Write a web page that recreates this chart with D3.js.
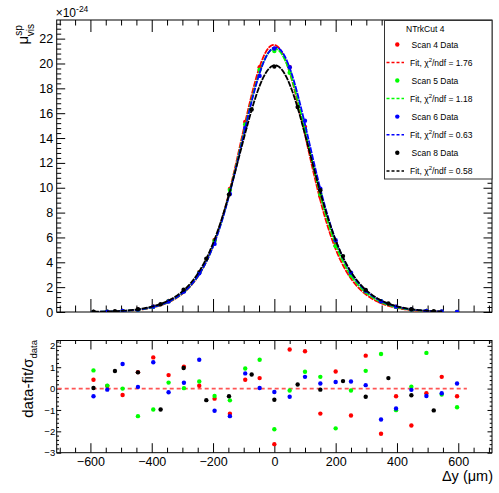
<!DOCTYPE html>
<html><head><meta charset="utf-8">
<script src="https://cdn.jsdelivr.net/npm/d3@7"></script>
<style>body{margin:0;background:#fff} svg{display:block} text{font-family:"Liberation Sans",Arial,Helvetica,sans-serif}</style>
</head><body><svg id="c" width="499" height="493"></svg>
<script>
// ---- data ----
const scanNames = ["Scan 4 Data", "Scan 5 Data", "Scan 6 Data", "Scan 8 Data"];
const chi2ndf = ["1.76", "1.18", "0.63", "0.58"];
const scanColors = ["#ff0000", "#00ff00", "#0000ff", "#000000"];
const headerText = "NTrkCut 4";

const xScan456 = [-590,-545,-495,-445,-395,-345,-295,-245,-195,-145,-95,-48,0,50,100,150,200,250,298,348,397,447,496,546,596];
const xScan8 = [-590,-520,-445,-371,-296,-222,-148,-74,0,76,150,224,298,372,447,520];

const yScan4 = [0.01,0.03,0.08,0.20,0.45,0.89,1.72,3.20,5.80,9.90,15.3,19.7,21.2,19.7,14.9,9.3,5.55,2.95,1.68,0.82,0.43,0.18,0.08,0.03,0.01];
const yScan5 = [0.01,0.03,0.08,0.18,0.42,0.87,1.68,3.16,5.73,9.82,15.1,19.5,21.0,19.25,14.7,9.45,5.3,2.96,1.64,0.87,0.41,0.19,0.09,0.03,0.01];
const yScan6 = [0.01,0.03,0.09,0.19,0.43,0.84,1.64,3.12,5.48,9.50,14.8,19.0,21.2,19.7,15.4,9.92,5.78,3.17,1.71,0.86,0.43,0.21,0.09,0.035,0.012];
const yScan8 = [0.02,0.07,0.23,0.62,1.80,4.28,9.45,16.3,19.75,16.5,9.8,4.5,1.78,0.69,0.22,0.06];

const resScan4 = [0.41,0.12,-0.30,0.77,1.46,0.63,1.02,0.13,-0.47,-1.18,0.41,0.49,-2.6,1.83,1.75,-1.17,0.80,-1.26,1.54,-2.11,-0.36,-1.73,-0.22,0.55,-0.36];
const resScan5 = [0.85,0.14,0.00,-1.29,-0.98,0.28,0.02,0.33,-0.35,-0.55,0.94,1.35,-1.9,-0.09,0.79,0.55,-1.86,-0.09,0.83,1.62,-1.01,0.09,1.67,-0.28,-0.87];
const resScan6 = [-0.36,-0.05,1.15,0.08,1.23,-0.17,0.27,1.35,-1.04,-1.29,0.71,0.03,-0.16,-0.38,0.55,0.24,0.31,0.33,0.16,-1.45,-0.93,-0.06,-0.35,-0.22,0.24];
const resScan8 = [0.03,0.82,0.76,-0.98,0.96,-0.54,-0.36,0.66,-0.52,0.19,-0.05,0.35,-0.38,0.49,-0.31,-1.02];

// double-gaussian fit parameters per scan
const fitAmp = [21.5, 21.2, 21.3, 19.85];
const fitMean = [-2, 1, 4, 2];
const fitSigma1 = [98, 100, 101, 106];
const fitSigma2 = [160, 163, 165, 170];
const fitFrac2 = [0.35, 0.35, 0.35, 0.35];
const fitRange = [-592, 548];

const xTicksMajor = [-600,-400,-200,0,200,400,600];
const yTopTicksMajor = [0,2,4,6,8,10,12,14,16,18,20,22];
const yBotTicksMajor = [-3,-2,-1,0,1,2];

// ---- layout ----
const svg = d3.select("#c");
const L = 56.7, R = 492;
const topT = 20, topB = 312;
const botT = 340.5, botB = 452.7;

const x = d3.scaleLinear().domain([-710, 710]).range([L, R]);
const yTop = d3.scaleLinear().domain([0, 23.5]).range([topB, topT]);
const yBot = d3.scaleLinear().domain([-3, 2.25]).range([botB, botT]);

const xMinor = d3.range(-700, 701, 50).filter(v => v % 200 !== 0);
const yTopMinor = d3.range(0, 23.41, 0.4).filter(v => Math.abs(v/2 - Math.round(v/2)) > 1e-6);
const yBotMinor = d3.range(-3, 2.25, 0.2).filter(v => Math.abs(v - Math.round(v)) > 1e-6);

function axisG(axis, tx, ty) {
  const g = svg.append("g").attr("transform", `translate(${tx},${ty})`).call(axis);
  g.select(".domain").remove();
  g.selectAll("line").attr("stroke", "#000").attr("stroke-width", 1);
  g.selectAll("text").attr("fill", "#000").style("font-family", '"Liberation Sans",Arial,sans-serif');
  return g;
}

// ---- top panel axes ----
axisG(d3.axisBottom(x).tickValues(xTicksMajor).tickSize(-13).tickFormat(""), 0, topB);
axisG(d3.axisBottom(x).tickValues(xMinor).tickSize(-6.5).tickFormat(""), 0, topB);
axisG(d3.axisTop(x).tickValues(xTicksMajor).tickSize(-12).tickFormat(""), 0, topT);
axisG(d3.axisTop(x).tickValues(xMinor).tickSize(-5.5).tickFormat(""), 0, topT);
const gyl = axisG(d3.axisLeft(yTop).tickValues(yTopTicksMajor).tickSize(-8.5).tickPadding(3.5).tickFormat(d3.format("d")), L, 0);
gyl.selectAll("text").attr("font-size", 12.5);
axisG(d3.axisLeft(yTop).tickValues(yTopMinor).tickSize(-4.5).tickFormat(""), L, 0);
axisG(d3.axisRight(yTop).tickValues(yTopTicksMajor).tickSize(-8.5).tickFormat(""), R, 0);
axisG(d3.axisRight(yTop).tickValues(yTopMinor).tickSize(-4.5).tickFormat(""), R, 0);

svg.append("rect").attr("x", L).attr("y", topT).attr("width", R - L).attr("height", topB - topT)
  .attr("fill", "none").attr("stroke", "#000").attr("stroke-width", 1);

// exponent label
const ex = svg.append("text").attr("x", L - 1).attr("y", 17).attr("font-size", 12).attr("fill", "#000");
ex.append("tspan").text("×10");
ex.append("tspan").attr("dy", -5).attr("font-size", 8.5).text("-24");

// y title top
const yt = svg.append("text").attr("transform", `translate(28,24) rotate(-90)`).attr("text-anchor", "end").attr("font-size", 15).attr("fill", "#000");
yt.append("tspan").text("μ");
yt.append("tspan").attr("font-size", 10).attr("dy", -6.5).text("sp");
yt.append("tspan").attr("font-size", 10).attr("dx", -11).attr("dy", 12).text("vis");

// ---- top panel fits and data ----
svg.append("clipPath").attr("id", "clipTop").append("rect")
  .attr("x", L).attr("y", topT).attr("width", R - L).attr("height", topB - topT);

const xScanList = [xScan456, xScan456, xScan456, xScan8];
const yScanList = [yScan4, yScan5, yScan6, yScan8];
const resList = [resScan4, resScan5, resScan6, resScan8];

const plotG = svg.append("g").attr("clip-path", "url(#clipTop)");
function fitFn(i, v) {
  const d = v - fitMean[i];
  return fitAmp[i] * ((1 - fitFrac2[i]) * Math.exp(-d*d/(2*fitSigma1[i]*fitSigma1[i])) +
                      fitFrac2[i] * Math.exp(-d*d/(2*fitSigma2[i]*fitSigma2[i])));
}
const xs = d3.range(fitRange[0], fitRange[1] + 0.1, 2);
const line = d3.line().x(d => x(d[0])).y(d => yTop(d[1]));
for (let i = 0; i < 4; i++) {
  const dataPts = xScanList[i].map((v, k) => [v, yScanList[i][k]]);
  plotG.append("g").selectAll("circle").data(dataPts).join("circle")
    .attr("cx", d => x(d[0])).attr("cy", d => yTop(d[1])).attr("r", 2.2).attr("fill", scanColors[i]);
  plotG.append("path").datum(xs.map(v => [v, fitFn(i, v)])).attr("d", line)
    .attr("fill", "none").attr("stroke", scanColors[i]).attr("stroke-width", 1.8)
    .attr("stroke-dasharray", "6,1");
}

// ---- legend ----
const lg = svg.append("g");
lg.append("rect").attr("x", 384.5).attr("y", 20.5).attr("width", R - 384.5).attr("height", 158.5)
  .attr("fill", "#fff").attr("stroke", "#333").attr("stroke-width", 1);
lg.append("text").attr("x", 406).attr("y", 31.5).attr("font-size", 8.5).attr("fill", "#000").text(headerText);
const rowY = [44.5, 62.5, 80.5, 98.5, 116.6, 134.7, 152.8, 170.9];
for (let i = 0; i < 4; i++) {
  const yd = rowY[2*i], yf = rowY[2*i+1];
  lg.append("circle").attr("cx", 397.3).attr("cy", yd).attr("r", 2.2).attr("fill", scanColors[i]);
  lg.append("text").attr("x", 411.5).attr("y", yd + 3).attr("font-size", 8.5).attr("fill", "#000").text(scanNames[i]);
  lg.append("line").attr("x1", 386.5).attr("x2", 404).attr("y1", yf).attr("y2", yf)
    .attr("stroke", scanColors[i]).attr("stroke-width", 1.5).attr("stroke-dasharray", "3,2");
  const t = lg.append("text").attr("x", 410).attr("y", yf + 3).attr("font-size", 8.5).attr("fill", "#000");
  t.append("tspan").text("Fit, χ");
  t.append("tspan").attr("dy", -3.5).attr("font-size", 6).text("2");
  t.append("tspan").attr("dy", 3.5).text("/ndf = " + chi2ndf[i]);
}

// ---- bottom panel ----
axisG(d3.axisBottom(x).tickValues(xTicksMajor).tickSize(-9.5).tickPadding(4).tickFormat(d3.format("d")), 0, botB)
  .selectAll("text").attr("font-size", 12.5);
axisG(d3.axisBottom(x).tickValues(xMinor).tickSize(-5).tickFormat(""), 0, botB);
axisG(d3.axisTop(x).tickValues(xTicksMajor).tickSize(-9).tickFormat(""), 0, botT);
axisG(d3.axisTop(x).tickValues(xMinor).tickSize(-3.5).tickFormat(""), 0, botT);
axisG(d3.axisLeft(yBot).tickValues(yBotTicksMajor).tickSize(-4.5).tickPadding(1.5).tickFormat(d3.format("d")), L, 0)
  .selectAll("text").attr("font-size", 9.5);
axisG(d3.axisLeft(yBot).tickValues(yBotMinor).tickSize(-2.3).tickFormat(""), L, 0);
axisG(d3.axisRight(yBot).tickValues(yBotTicksMajor).tickSize(-4.5).tickFormat(""), R, 0);
axisG(d3.axisRight(yBot).tickValues(yBotMinor).tickSize(-2.3).tickFormat(""), R, 0);
svg.append("rect").attr("x", L).attr("y", botT).attr("width", R - L).attr("height", botB - botT)
  .attr("fill", "none").attr("stroke", "#000").attr("stroke-width", 1);

// zero line
svg.append("line").attr("x1", L + 1).attr("x2", x(628)).attr("y1", yBot(0)).attr("y2", yBot(0))
  .attr("stroke", "#ff5555").attr("stroke-width", 1.6).attr("stroke-dasharray", "4,3");

for (let i = 0; i < 4; i++) {
  const pts = xScanList[i].map((v, k) => [v, resList[i][k]]);
  svg.append("g").selectAll("circle").data(pts).join("circle")
    .attr("cx", d => x(d[0])).attr("cy", d => yBot(d[1])).attr("r", 2.2).attr("fill", scanColors[i]);
}

// bottom y title
const by = svg.append("text").attr("transform", `translate(33,340) rotate(-90)`).attr("text-anchor", "end").attr("font-size", 15).attr("fill", "#000");
by.append("tspan").text("data-fit/σ");
by.append("tspan").attr("font-size", 9.5).attr("dy", 4).text("data");

// x title
svg.append("text").attr("x", R + 1).attr("y", 481).attr("text-anchor", "end").attr("font-size", 14.5).attr("fill", "#000").text("Δy (μm)");
</script></body></html>
